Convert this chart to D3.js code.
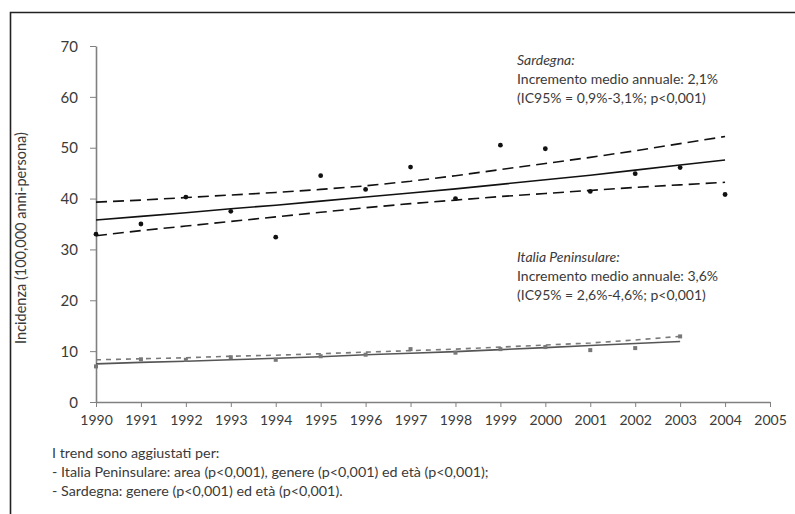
<!DOCTYPE html>
<html><head><meta charset="utf-8">
<script src="https://cdn.jsdelivr.net/npm/d3@7/dist/d3.min.js"></script>
<style>
html,body{margin:0;padding:0;background:#fff;}
svg{display:block;font-family:Lato,"Open Sans",sans-serif;}
</style></head>
<body>
<svg id="chart" width="795" height="514"></svg>
<script>
// ---- data ----
const years = [1990,1991,1992,1993,1994,1995,1996,1997,1998,1999,2000,2001,2002,2003,2004];
const sardegnaObs   = [33.0,35.0,40.3,37.5,32.4,44.5,41.8,46.2,40.0,50.5,49.8,41.4,44.9,46.1,40.8];
const sardegnaTrend = [35.8,36.5,37.2,38.0,38.7,39.5,40.3,41.1,41.9,42.8,43.7,44.6,45.6,46.6,47.6];
const sardegnaUpper = [39.3,39.7,40.2,40.7,41.2,41.8,42.5,43.4,44.5,45.7,46.9,48.1,49.4,50.8,52.2];
const sardegnaLower = [32.7,33.7,34.6,35.5,36.4,37.3,38.2,39.0,39.7,40.4,41.0,41.6,42.2,42.7,43.2];
const italiaYears = [1990,1991,1992,1993,1994,1995,1996,1997,1998,1999,2000,2001,2002,2003];
const italiaObs   = [7.0,8.4,8.3,8.8,8.3,9.0,9.3,10.4,9.7,10.4,10.8,10.2,10.6,12.9];
const italiaTrend = [7.5,7.8,8.0,8.3,8.6,8.9,9.3,9.6,9.9,10.3,10.7,11.1,11.5,11.9];
const italiaUpper = [8.3,8.5,8.7,9.0,9.2,9.5,9.8,10.1,10.4,10.8,11.2,11.6,12.2,12.9];
const xTicks = [1990,1991,1992,1993,1994,1995,1996,1997,1998,1999,2000,2001,2002,2003,2004,2005];
const yTicks = [0,10,20,30,40,50,60,70];
const yLabel = "Incidenza (100,000 anni-persona)";
const noteSardegna = ["Sardegna:", "Incremento medio annuale: 2,1%", "(IC95% = 0,9%-3,1%; p<0,001)"];
const noteItalia = ["Italia Peninsulare:", "Incremento medio annuale: 3,6%", "(IC95% = 2,6%-4,6%; p<0,001)"];
const footnote = ["I trend sono aggiustati per:",
  "- Italia Peninsulare: area (p<0,001), genere (p<0,001) ed età (p<0,001);",
  "- Sardegna: genere (p<0,001) ed età (p<0,001)."];

// ---- drawing ----
const svg = d3.select("#chart");
const x = d3.scaleLinear().domain([1990,2005]).range([96,770]);
const y = d3.scaleLinear().domain([0,70]).range([402,46]);
const axisCol = "#808080", textCol = "#3a3a3a";

// frame
svg.append("path").attr("d","M10.5,514 L10.5,12.5 L795,12.5")
  .attr("fill","none").attr("stroke","#222").attr("stroke-width",1.6);

// axes
const gx = svg.append("g").attr("transform",`translate(0,${y(0)})`)
  .call(d3.axisBottom(x).tickValues(xTicks).tickFormat(d3.format("d")).tickSize(5).tickSizeOuter(0));
const gy = svg.append("g").attr("transform",`translate(${x(1990)},0)`)
  .call(d3.axisLeft(y).tickValues(yTicks).tickSize(6).tickSizeOuter(0));
[gx,gy].forEach(g=>{
  g.select(".domain").attr("stroke",axisCol).attr("stroke-width",1.6);
  g.selectAll(".tick line").attr("stroke",axisCol).attr("stroke-width",1);
  g.selectAll(".tick text").attr("fill",textCol).attr("font-family","Lato, sans-serif");
});
gx.selectAll(".tick text").attr("font-size",14).attr("dy","1.05em");
gy.selectAll(".tick text").attr("font-size",15).attr("dx","-0.6em").attr("dy","0.35em");
gy.selectAll(".tick line").attr("x2",-6);

// y label
svg.append("text").attr("transform",`translate(26,238) rotate(-90)`)
  .attr("text-anchor","middle").attr("font-size",14.5).attr("fill",textCol).text(yLabel);

const line = d3.line().x(d=>x(d[0])).y(d=>y(d[1]));
const zip = (a,b)=>a.map((v,i)=>[v,b[i]]);

// Italia Peninsulare
svg.append("path").datum(zip(italiaYears,italiaUpper)).attr("d",line)
  .attr("fill","none").attr("stroke","#7a7a7a").attr("stroke-width",1.6).attr("stroke-dasharray","5,5");
svg.append("path").datum(zip(italiaYears,italiaTrend)).attr("d",line)
  .attr("fill","none").attr("stroke","#555").attr("stroke-width",1.6);
svg.append("g").selectAll("rect").data(zip(italiaYears,italiaObs)).join("rect")
  .attr("x",d=>x(d[0])-2).attr("y",d=>y(d[1])-2).attr("width",4).attr("height",4)
  .attr("fill","#777");

// Sardegna
[sardegnaUpper,sardegnaLower].forEach(arr=>{
  svg.append("path").datum(zip(years,arr)).attr("d",line)
    .attr("fill","none").attr("stroke","#111").attr("stroke-width",1.6).attr("stroke-dasharray","11,6");
});
svg.append("path").datum(zip(years,sardegnaTrend)).attr("d",line)
  .attr("fill","none").attr("stroke","#111").attr("stroke-width",1.6);
svg.append("g").selectAll("circle").data(zip(years,sardegnaObs)).join("circle")
  .attr("cx",d=>x(d[0])).attr("cy",d=>y(d[1])).attr("r",2.4).attr("fill","#111");

// annotations
function note(lines, x0, y0){
  const t = svg.append("text").attr("font-size",14).attr("fill",textCol);
  lines.forEach((s,i)=>{
    t.append("tspan").attr("x",x0).attr("y",y0+i*19).text(s)
      .attr("font-style", i===0 ? "italic" : "normal");
  });
}
note(noteSardegna, 517, 65);
note(noteItalia, 517, 262);

// footnote
const ft = svg.append("text").attr("font-size",14.3).attr("fill",textCol);
footnote.forEach((s,i)=>ft.append("tspan").attr("x",52).attr("y",458+i*19).text(s));
</script>
</body></html>
